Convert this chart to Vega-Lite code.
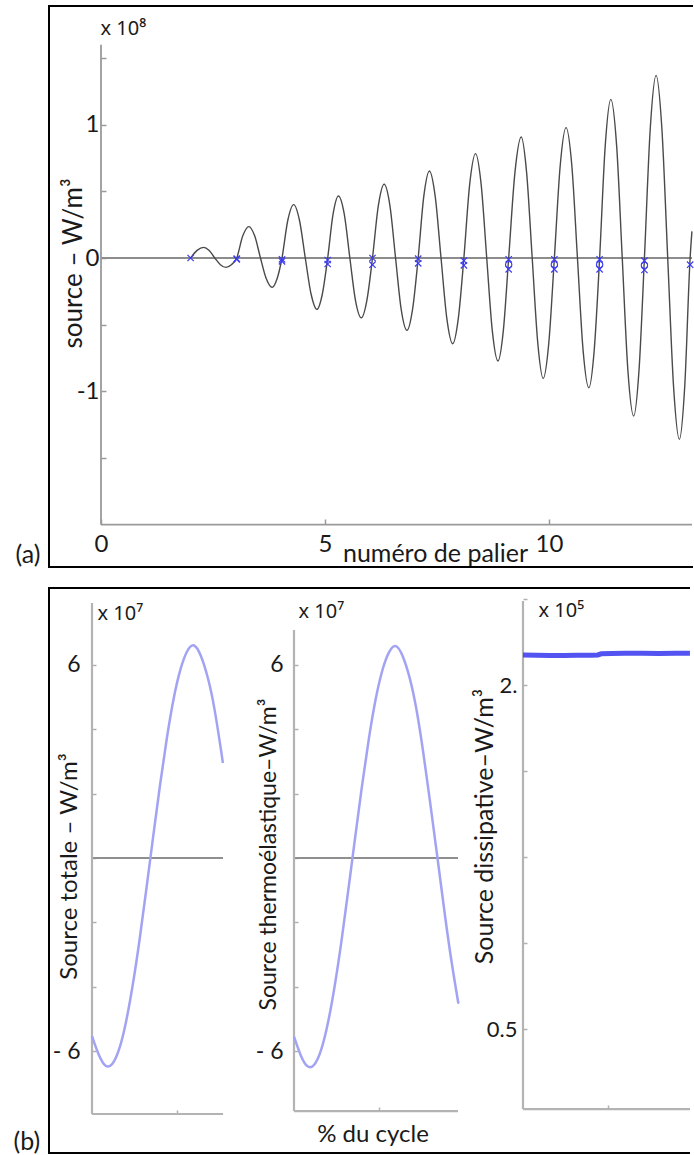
{
  "$schema": "https://vega.github.io/schema/vega-lite/v6.json",
  "background": "white",
  "padding": {"left": 13, "top": 4, "right": 0, "bottom": 0},
  "autosize": {"type": "pad"},
  "config": {
    "font": "Lato",
    "view": {"stroke": null},
    "axis": {"grid": false, "domain": false, "labelFont": "Lato", "titleFont": "Lato", "labelColor": "#1a1a1a", "titleColor": "#1a1a1a", "titleFontWeight": "normal", "tickColor": "#9a9a9a", "tickWidth": 1.5, "labelFlush": false, "labelOverlap": false, "labelBound": false}
  },
  "datasets": {
    "one": [{}],
    "curveA": [
      {"palier": 2.00, "source": 0}, {"palier": 2.145, "source": 0.057}, {"palier": 2.29, "source": 0.08}, {"palier": 2.415, "source": 0.057}, {"palier": 2.54, "source": 0}, {"palier": 2.665, "source": -0.05}, {"palier": 2.79, "source": -0.07}, {"palier": 2.91, "source": -0.05},
      {"palier": 3.03, "source": 0}, {"palier": 3.165, "source": 0.166}, {"palier": 3.30, "source": 0.235}, {"palier": 3.43, "source": 0.166}, {"palier": 3.56, "source": 0}, {"palier": 3.69, "source": -0.156}, {"palier": 3.82, "source": -0.22}, {"palier": 3.93, "source": -0.156},
      {"palier": 4.04, "source": 0}, {"palier": 4.17, "source": 0.283}, {"palier": 4.30, "source": 0.40}, {"palier": 4.43, "source": 0.283}, {"palier": 4.56, "source": 0}, {"palier": 4.69, "source": -0.272}, {"palier": 4.82, "source": -0.385}, {"palier": 4.94, "source": -0.272},
      {"palier": 5.06, "source": 0}, {"palier": 5.18, "source": 0.329}, {"palier": 5.30, "source": 0.465}, {"palier": 5.43, "source": 0.329}, {"palier": 5.555, "source": 0}, {"palier": 5.68, "source": -0.317}, {"palier": 5.81, "source": -0.448}, {"palier": 5.935, "source": -0.317},
      {"palier": 6.06, "source": 0}, {"palier": 6.19, "source": 0.391}, {"palier": 6.32, "source": 0.553}, {"palier": 6.45, "source": 0.391}, {"palier": 6.575, "source": 0}, {"palier": 6.70, "source": -0.384}, {"palier": 6.83, "source": -0.543}, {"palier": 6.955, "source": -0.384},
      {"palier": 7.08, "source": 0}, {"palier": 7.205, "source": 0.462}, {"palier": 7.33, "source": 0.653}, {"palier": 7.46, "source": 0.462}, {"palier": 7.59, "source": 0}, {"palier": 7.72, "source": -0.455}, {"palier": 7.85, "source": -0.643}, {"palier": 7.975, "source": -0.455},
      {"palier": 8.10, "source": 0}, {"palier": 8.23, "source": 0.554}, {"palier": 8.36, "source": 0.783}, {"palier": 8.485, "source": 0.554}, {"palier": 8.61, "source": 0}, {"palier": 8.735, "source": -0.547}, {"palier": 8.86, "source": -0.773}, {"palier": 8.98, "source": -0.547},
      {"palier": 9.10, "source": 0}, {"palier": 9.24, "source": 0.642}, {"palier": 9.38, "source": 0.908}, {"palier": 9.50, "source": 0.642}, {"palier": 9.625, "source": 0}, {"palier": 9.75, "source": -0.639}, {"palier": 9.87, "source": -0.903}, {"palier": 9.995, "source": -0.639},
      {"palier": 10.12, "source": 0}, {"palier": 10.25, "source": 0.692}, {"palier": 10.38, "source": 0.978}, {"palier": 10.51, "source": 0.692}, {"palier": 10.635, "source": 0}, {"palier": 10.76, "source": -0.688}, {"palier": 10.89, "source": -0.973}, {"palier": 11.01, "source": -0.688},
      {"palier": 11.13, "source": 0}, {"palier": 11.255, "source": 0.841}, {"palier": 11.38, "source": 1.19}, {"palier": 11.51, "source": 0.841}, {"palier": 11.635, "source": 0}, {"palier": 11.76, "source": -0.838}, {"palier": 11.89, "source": -1.185}, {"palier": 12.01, "source": -0.838},
      {"palier": 12.13, "source": 0}, {"palier": 12.26, "source": 0.969}, {"palier": 12.39, "source": 1.37}, {"palier": 12.52, "source": 0.969}, {"palier": 12.65, "source": 0}, {"palier": 12.78, "source": -0.962}, {"palier": 12.91, "source": -1.36}, {"palier": 13.03, "source": -0.962},
      {"palier": 13.15, "source": 0}, {"palier": 13.19, "source": 0.2}
    ],
    "markersA": [
      {"palier": 2.00, "source": 0, "serie": "a"}, {"palier": 3.03, "source": -0.005, "serie": "a"}, {"palier": 4.04, "source": -0.01, "serie": "a"}, {"palier": 5.06, "source": -0.015, "serie": "a"}, {"palier": 6.06, "source": 0, "serie": "a"}, {"palier": 7.08, "source": -0.005, "serie": "a"}, {"palier": 8.10, "source": -0.02, "serie": "a"}, {"palier": 9.10, "source": -0.01, "serie": "a"}, {"palier": 10.12, "source": -0.01, "serie": "a"}, {"palier": 11.13, "source": -0.01, "serie": "a"}, {"palier": 12.13, "source": -0.02, "serie": "a"}, {"palier": 13.15, "source": -0.05, "serie": "a"},
      {"palier": 3.03, "source": -0.01, "serie": "b"}, {"palier": 4.04, "source": -0.025, "serie": "b"}, {"palier": 5.06, "source": -0.045, "serie": "b"}, {"palier": 6.06, "source": -0.05, "serie": "b"}, {"palier": 7.08, "source": -0.04, "serie": "b"}, {"palier": 8.10, "source": -0.055, "serie": "b"}, {"palier": 9.10, "source": -0.085, "serie": "b"}, {"palier": 10.12, "source": -0.085, "serie": "b"}, {"palier": 11.13, "source": -0.085, "serie": "b"}, {"palier": 12.13, "source": -0.09, "serie": "b"},
      {"palier": 9.10, "source": -0.05, "serie": "o"}, {"palier": 10.12, "source": -0.05, "serie": "o"}, {"palier": 11.13, "source": -0.05, "serie": "o"}, {"palier": 12.13, "source": -0.055, "serie": "o"}
    ],
    "totale": [
      {"cycle": 0, "val": -5.53}, {"cycle": 4, "val": -6.11}, {"cycle": 8, "val": -6.45}, {"cycle": 12, "val": -6.39}, {"cycle": 16, "val": -5.93}, {"cycle": 20, "val": -5.09}, {"cycle": 24, "val": -3.93}, {"cycle": 28, "val": -2.53}, {"cycle": 32, "val": -0.95}, {"cycle": 36, "val": 0.67}, {"cycle": 40, "val": 2.26}, {"cycle": 44, "val": 3.71}, {"cycle": 48, "val": 4.94}, {"cycle": 52, "val": 5.85}, {"cycle": 56, "val": 6.42}, {"cycle": 60, "val": 6.6}, {"cycle": 64, "val": 6.28}, {"cycle": 68, "val": 5.62}, {"cycle": 72, "val": 4.64}, {"cycle": 76, "val": 3.31}, {"cycle": 77, "val": 2.95}
    ],
    "thermo": [
      {"cycle": 0, "val": -5.55}, {"cycle": 4, "val": -6.13}, {"cycle": 8, "val": -6.47}, {"cycle": 12, "val": -6.41}, {"cycle": 16, "val": -5.95}, {"cycle": 20, "val": -5.11}, {"cycle": 24, "val": -3.95}, {"cycle": 28, "val": -2.55}, {"cycle": 32, "val": -0.97}, {"cycle": 36, "val": 0.65}, {"cycle": 40, "val": 2.24}, {"cycle": 44, "val": 3.69}, {"cycle": 48, "val": 4.92}, {"cycle": 52, "val": 5.83}, {"cycle": 56, "val": 6.4}, {"cycle": 60, "val": 6.58}, {"cycle": 64, "val": 6.26}, {"cycle": 68, "val": 5.6}, {"cycle": 72, "val": 4.62}, {"cycle": 76, "val": 3.29}, {"cycle": 80, "val": 1.76}, {"cycle": 84, "val": 0.16}, {"cycle": 88, "val": -1.46}, {"cycle": 92, "val": -2.98}, {"cycle": 96, "val": -4.3}, {"cycle": 96.5, "val": -4.45}
    ],
    "dissip": [
      {"cycle": 0, "val": 2.131}, {"cycle": 8, "val": 2.13}, {"cycle": 16, "val": 2.129}, {"cycle": 24, "val": 2.129}, {"cycle": 32, "val": 2.13}, {"cycle": 40, "val": 2.13}, {"cycle": 44, "val": 2.131}, {"cycle": 46, "val": 2.136}, {"cycle": 52, "val": 2.137}, {"cycle": 60, "val": 2.138}, {"cycle": 70, "val": 2.138}, {"cycle": 80, "val": 2.137}, {"cycle": 90, "val": 2.138}, {"cycle": 98.2, "val": 2.138}
    ]
  },
  "bounds": "full",
  "spacing": 17,
  "vconcat": [
    {
      "width": 643,
      "height": 561,
      "resolve": {"axis": {"x": "independent", "y": "independent"}},
      "layer": [
        {
          "data": {"name": "one"},
          "mark": {"type": "rule", "color": "#8c8c8c", "strokeWidth": 2},
          "encoding": {
            "x": {"datum": 0, "axis": {"orient": "bottom", "offset": -43, "labels": false, "ticks": false, "title": "(a)", "titleFontSize": 25, "titleX": -34, "titleY": 38, "titleAlign": "left", "titleBaseline": "alphabetic", "titleAngle": 0}},
            "x2": {"datum": 13.192},
            "y": {"datum": 0, "axis": {"orient": "left", "offset": -52, "labels": false, "ticks": false, "title": "x 10⁸", "titleFont": "Noto Sans", "titleFontSize": 20, "titleX": -1, "titleY": 28, "titleAlign": "left", "titleBaseline": "alphabetic", "titleAngle": 0}}
          }
        },
        {
          "data": {"name": "one"},
          "mark": {"type": "rule", "color": "#9a9a9a", "strokeWidth": 1.8},
          "encoding": {"x": {"datum": 0, "axis": null}, "y": {"datum": -2, "axis": null}, "y2": {"datum": 1.6}}
        },
        {
          "data": {"name": "one"},
          "mark": {"type": "rule", "color": "#9a9a9a", "strokeWidth": 1.8},
          "encoding": {"x": {"datum": 0, "axis": null}, "x2": {"datum": 13.192}, "y": {"datum": -2, "axis": null}}
        },
        {
          "data": {"name": "curveA"},
          "mark": {"type": "line", "color": "#4a4a4a", "strokeWidth": 1.4, "interpolate": "monotone"},
          "encoding": {
            "x": {"field": "palier", "type": "quantitative", "scale": {"domain": [-1.1607, 13.192], "nice": false, "zero": false},
              "axis": {"orient": "bottom", "offset": -43, "values": [0, 5, 10], "tickSize": -5, "labelPadding": 13, "labelFontSize": 24, "labelBaseline": "top", "labelAlign": "center", "title": "numéro de palier", "titleFontSize": 25, "titleX": 386, "titleY": 37, "titleAlign": "center", "titleBaseline": "alphabetic", "titleAngle": 0}},
            "y": {"field": "source", "type": "quantitative", "scale": {"domain": [-2.3175, 1.89], "nice": false, "zero": false},
              "axis": {"orient": "left", "offset": -52, "values": [-1.5, -1, -0.5, 0, 0.5, 1, 1.5], "labelExpr": "datum.value == 1 ? '1' : datum.value == 0 ? '0' : datum.value == -1 ? '-1' : ''", "tickSize": -5, "labelPadding": 7, "labelFontSize": 24, "labelAlign": "right", "labelBaseline": "middle", "title": "source – W/m³", "titleFontSize": 26, "titleAngle": -90, "titleX": -20, "titleY": 257, "titleAlign": "center", "titleBaseline": "alphabetic"}}
          }
        },
        {
          "data": {"name": "markersA"},
          "mark": {"type": "point", "filled": false, "strokeWidth": 1.2, "color": "#3c3cf0", "size": 40, "opacity": 1},
          "encoding": {
            "x": {"field": "palier", "type": "quantitative", "axis": null},
            "y": {"field": "source", "type": "quantitative", "axis": null},
            "shape": {"field": "serie", "type": "nominal", "scale": {"domain": ["a", "b", "o"], "range": ["M-1,-1L1,1M-1,1L1,-1", "M-1,-1L1,1M-1,1L1,-1", "circle"]}, "legend": null}
          }
        },
        {
          "data": {"name": "one"},
          "mark": {"type": "rule", "color": "black", "strokeWidth": 2, "strokeCap": "square"},
          "encoding": {"x": {"datum": -1.1607, "axis": null}, "x2": {"datum": 13.192}, "y": {"datum": 1.89, "axis": null}}
        },
        {
          "data": {"name": "one"},
          "mark": {"type": "rule", "color": "black", "strokeWidth": 2, "strokeCap": "square"},
          "encoding": {"x": {"datum": -1.1607, "axis": null}, "x2": {"datum": 13.192}, "y": {"datum": -2.3175, "axis": null}}
        },
        {
          "data": {"name": "one"},
          "mark": {"type": "rule", "color": "black", "strokeWidth": 2, "strokeCap": "square"},
          "encoding": {"x": {"datum": -1.1607, "axis": null}, "y": {"datum": -2.3175, "axis": null}, "y2": {"datum": 1.89}}
        }
      ]
    },
    {
      "hconcat": [
        {
          "width": 186,
          "height": 565,
          "resolve": {"axis": {"x": "independent", "y": "independent"}},
          "layer": [
            {
              "data": {"name": "one"},
              "mark": {"type": "rule", "color": "#8f8f8f", "strokeWidth": 2},
              "encoding": {
                "x": {"datum": 0, "axis": {"orient": "bottom", "offset": -39, "labels": false, "ticks": false, "title": "(b)", "titleFontSize": 25, "titleX": -36, "titleY": 35, "titleAlign": "left", "titleBaseline": "alphabetic", "titleAngle": 0}},
                "x2": {"datum": 77.06},
                "y": {"datum": 0, "axis": {"orient": "left", "offset": -43, "labels": false, "ticks": false, "title": "x 10⁷", "titleFont": "Noto Sans", "titleFontSize": 20, "titleX": 5, "titleY": 31, "titleAlign": "left", "titleBaseline": "alphabetic", "titleAngle": 0}}
              }
            },
            {
              "data": {"name": "one"},
              "mark": {"type": "rule", "color": "#b3b3b3", "strokeWidth": 2.2},
              "encoding": {"x": {"datum": 0, "axis": null}, "y": {"datum": -7.95, "axis": null}, "y2": {"datum": 7.92}}
            },
            {
              "data": {"name": "one"},
              "mark": {"type": "rule", "color": "#b3b3b3", "strokeWidth": 2.2},
              "encoding": {"x": {"datum": 0, "axis": null}, "x2": {"datum": 77.06}, "y": {"datum": -7.95, "axis": null}}
            },
            {
              "data": {"name": "totale"},
              "mark": {"type": "line", "color": "#a3a3f3", "strokeWidth": 2.5, "interpolate": "natural"},
              "encoding": {
                "x": {"field": "cycle", "type": "quantitative", "scale": {"domain": [-25.294, 84.118], "nice": false, "zero": false},
                  "axis": {"orient": "bottom", "offset": -39, "values": [50], "labels": false, "tickSize": -4, "tickColor": "#b0b0b0", "title": null}},
                "y": {"field": "val", "type": "quantitative", "scale": {"domain": [-9.161, 8.385], "nice": false, "zero": false},
                  "axis": {"orient": "left", "offset": -43, "values": [-6, -4, -2, 0, 2, 4, 6], "labelExpr": "datum.value == 6 ? '6' : datum.value == -6 ? '- 6' : ''", "tickSize": -4, "tickColor": "#b0b0b0", "labelPadding": 16, "labelFontSize": 23, "labelAlign": "right", "labelBaseline": "middle", "title": "Source totale – W/m³", "titleFontSize": 24, "titleAngle": -90, "titleX": -16, "titleY": 278, "titleAlign": "center", "titleBaseline": "alphabetic"}}
              }
            },
            {
              "data": {"name": "one"},
              "mark": {"type": "rule", "color": "black", "strokeWidth": 2},
              "encoding": {"x": {"datum": -25.294, "axis": null}, "x2": {"datum": 84.118}, "y": {"datum": 8.385, "axis": null}}
            },
            {
              "data": {"name": "one"},
              "mark": {"type": "rule", "color": "black", "strokeWidth": 2},
              "encoding": {"x": {"datum": -25.294, "axis": null}, "x2": {"datum": 84.118}, "y": {"datum": -9.161, "axis": null}}
            },
            {
              "data": {"name": "one"},
              "mark": {"type": "rule", "color": "black", "strokeWidth": 2, "strokeCap": "square"},
              "encoding": {"x": {"datum": -25.294, "axis": null}, "y": {"datum": -9.161, "axis": null}, "y2": {"datum": 8.385}}
            }
          ]
        },
        {
          "width": 230,
          "height": 565,
          "resolve": {"axis": {"x": "independent", "y": "independent"}},
          "layer": [
            {
              "data": {"name": "one"},
              "mark": {"type": "rule", "color": "#8f8f8f", "strokeWidth": 2},
              "encoding": {
                "x": {"datum": 0, "axis": null},
                "x2": {"datum": 96.47},
                "y": {"datum": 0, "axis": {"orient": "left", "offset": -59, "labels": false, "ticks": false, "title": "x 10⁷", "titleFont": "Noto Sans", "titleFontSize": 20, "titleX": 4, "titleY": 29, "titleAlign": "left", "titleBaseline": "alphabetic", "titleAngle": 0}}
              }
            },
            {
              "data": {"name": "one"},
              "mark": {"type": "rule", "color": "#b3b3b3", "strokeWidth": 2.2},
              "encoding": {"x": {"datum": 0, "axis": null}, "y": {"datum": -7.86, "axis": null}, "y2": {"datum": 7.08}}
            },
            {
              "data": {"name": "one"},
              "mark": {"type": "rule", "color": "#b3b3b3", "strokeWidth": 2.2},
              "encoding": {"x": {"datum": 0, "axis": null}, "x2": {"datum": 96.47}, "y": {"datum": -7.86, "axis": null}}
            },
            {
              "data": {"name": "thermo"},
              "mark": {"type": "line", "color": "#a3a3f3", "strokeWidth": 2.5, "interpolate": "natural"},
              "encoding": {
                "x": {"field": "cycle", "type": "quantitative", "scale": {"domain": [-34.706, 100.588], "nice": false, "zero": false},
                  "axis": {"orient": "bottom", "offset": -42, "values": [50], "labels": false, "tickSize": -4, "tickColor": "#b0b0b0", "title": "% du cycle", "titleFontSize": 24, "titleX": 137.5, "titleY": 30, "titleAlign": "center", "titleBaseline": "alphabetic", "titleAngle": 0}},
                "y": {"field": "val", "type": "quantitative", "scale": {"domain": [-9.161, 8.385], "nice": false, "zero": false},
                  "axis": {"orient": "left", "offset": -59, "values": [-6, -4, -2, 0, 2, 4, 6], "labelExpr": "datum.value == 6 ? '6' : datum.value == -6 ? '- 6' : ''", "tickSize": -4, "tickColor": "#b0b0b0", "labelPadding": 15, "labelFontSize": 23, "labelAlign": "right", "labelBaseline": "middle", "title": "Source thermoélastique–W/m³", "titleFontSize": 23, "titleAngle": -90, "titleX": -19, "titleY": 266, "titleAlign": "center", "titleBaseline": "alphabetic"}}
              }
            },
            {
              "data": {"name": "one"},
              "mark": {"type": "rule", "color": "black", "strokeWidth": 2},
              "encoding": {"x": {"datum": -34.706, "axis": null}, "x2": {"datum": 100.588}, "y": {"datum": 8.385, "axis": null}}
            },
            {
              "data": {"name": "one"},
              "mark": {"type": "rule", "color": "black", "strokeWidth": 2},
              "encoding": {"x": {"datum": -34.706, "axis": null}, "x2": {"datum": 100.588}, "y": {"datum": -9.161, "axis": null}}
            }
          ]
        },
        {
          "width": 225,
          "height": 565,
          "resolve": {"axis": {"x": "independent", "y": "independent"}},
          "layer": [
            {
              "data": {"name": "one"},
              "mark": {"type": "rule", "color": "#b3b3b3", "strokeWidth": 2.2},
              "encoding": {
                "x": {"datum": 0, "axis": null},
                "y": {"datum": 0.151, "axis": {"orient": "left", "offset": -58, "labels": false, "ticks": false, "title": "x 10⁵", "titleFont": "Noto Sans", "titleFontSize": 20, "titleX": 15, "titleY": 28, "titleAlign": "left", "titleBaseline": "alphabetic", "titleAngle": 0}},
                "y2": {"datum": 2.366}
              }
            },
            {
              "data": {"name": "one"},
              "mark": {"type": "rule", "color": "#b3b3b3", "strokeWidth": 2.2},
              "encoding": {"x": {"datum": 0, "axis": null}, "x2": {"datum": 98.235}, "y": {"datum": 0.151, "axis": null}}
            },
            {
              "data": {"name": "dissip"},
              "mark": {"type": "line", "color": "#4040f0", "strokeWidth": 5, "opacity": 0.9},
              "encoding": {
                "x": {"field": "cycle", "type": "quantitative", "scale": {"domain": [-34.118, 98.235], "nice": false, "zero": false},
                  "axis": {"orient": "bottom", "offset": -44, "values": [50], "labels": false, "tickSize": -4, "tickColor": "#b0b0b0", "title": null}},
                "y": {"field": "val", "type": "quantitative", "scale": {"domain": [-0.0407, 2.423], "nice": false, "zero": false},
                  "axis": {"orient": "left", "offset": -58, "values": [0.5, 0.875, 1.25, 1.625, 2, 2.375], "labelExpr": "datum.value == 2 ? '2.' : datum.value == 0.5 ? '0.5' : ''", "tickSize": -4, "tickColor": "#b0b0b0", "labelPadding": 10, "labelFontSize": 22, "labelAlign": "right", "labelBaseline": "middle", "title": "Source dissipative–W/m³", "titleFontSize": 25, "titleAngle": -90, "titleX": -31, "titleY": 238, "titleAlign": "center", "titleBaseline": "alphabetic"}}
              }
            },
            {
              "data": {"name": "one"},
              "mark": {"type": "rule", "color": "black", "strokeWidth": 2},
              "encoding": {"x": {"datum": -34.118, "axis": null}, "x2": {"datum": 98.235}, "y": {"datum": 2.423, "axis": null}}
            },
            {
              "data": {"name": "one"},
              "mark": {"type": "rule", "color": "black", "strokeWidth": 2},
              "encoding": {"x": {"datum": -34.118, "axis": null}, "x2": {"datum": 98.235}, "y": {"datum": -0.0407, "axis": null}}
            }
          ]
        }
      ],
      "spacing": 0,
      "bounds": "flush"
    }
  ]
}
